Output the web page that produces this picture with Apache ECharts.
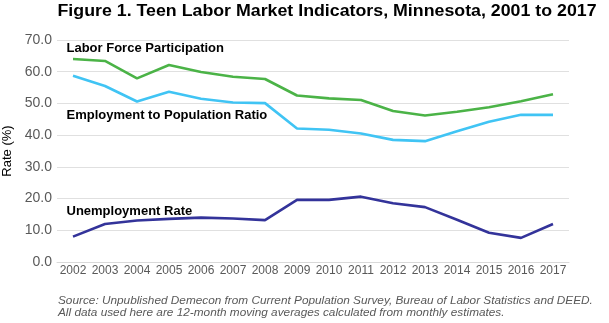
<!DOCTYPE html>
<html>
<head>
<meta charset="utf-8">
<script src="https://cdn.jsdelivr.net/npm/echarts@6/dist/echarts.min.js"></script>
<style>
  html, body { margin: 0; padding: 0; background: #ffffff; }
  #chart { width: 609px; height: 323px; }
</style>
</head>
<body>
<div id="chart"></div>
<script>
// Teen labor market indicators, Minnesota (12-month moving averages, %)
const years = ['2002','2003','2004','2005','2006','2007','2008','2009','2010','2011','2012','2013','2014','2015','2016','2017'];
const laborForce = [64.0, 63.4, 57.9, 62.1, 59.9, 58.4, 57.7, 52.5, 51.6, 51.1, 47.6, 46.2, 47.4, 48.8, 50.7, 52.9];
const employmentRatio = [58.7, 55.5, 50.6, 53.7, 51.5, 50.3, 50.1, 42.1, 41.7, 40.5, 38.5, 38.1, 41.2, 44.2, 46.4, 46.4];
const unemployment = [8.0, 12.0, 13.1, 13.6, 14.0, 13.7, 13.2, 19.6, 19.6, 20.6, 18.5, 17.3, 13.3, 9.2, 7.6, 12.0];

const seriesNames = ['Labor Force Participation', 'Employment to Population Ratio', 'Unemployment Rate'];
// where each series name sits, in data units (category, value)
const namePositions = [['2002', 67.3], ['2002', 46.3], ['2002', 16.0]];

const FONT = '"Liberation Sans", Arial, sans-serif';

function lineSeries(name, data, color, labelAt) {
  return {
    name: name,
    type: 'line',
    data: data,
    symbol: 'none',
    lineStyle: { color: color, width: 2.6 },
    itemStyle: { color: color },
    animation: false,
    markPoint: {
      symbol: 'rect',
      symbolSize: 0,
      silent: true,
      data: [{ coord: labelAt, value: name }],
      label: {
        show: true,
        position: 'inside',
        align: 'left',
        verticalAlign: 'middle',
        offset: [-6.5, 0],
        formatter: name,
        color: '#000000',
        fontFamily: FONT,
        fontWeight: 'bold',
        fontSize: 13
      }
    }
  };
}

const chart = echarts.init(document.getElementById('chart'), null, { renderer: 'canvas' });
chart.setOption({
  backgroundColor: '#ffffff',
  animation: false,
  graphic: [{
    type: 'text',
    x: 57.5,
    y: 12,
    scaleX: 1.14,
    style: {
      text: 'Figure 1. Teen Labor Market Indicators, Minnesota, 2001 to 2017',
      font: 'bold 15.6px "Liberation Sans", Arial, sans-serif',
      fill: '#000000',
      verticalAlign: 'middle'
    }
  }, {
    type: 'text',
    x: 58,
    y: 294.3,
    style: {
      text: 'Source: Unpublished Demecon from Current Population Survey, Bureau of Labor Statistics and DEED.\nAll data used here are 12-month moving averages calculated from monthly estimates.',
      font: 'italic 11.8px "Liberation Sans", Arial, sans-serif',
      fill: '#595959',
      lineHeight: 12.5
    }
  }],
  grid: { left: 57, right: 40, top: 40, bottom: 61, outerBoundsMode: 'none', containLabel: false },
  xAxis: {
    type: 'category',
    data: years,
    boundaryGap: true,
    axisLine: { show: true, lineStyle: { color: '#d9d9d9', width: 1 } },
    axisTick: { show: false },
    axisLabel: { color: '#595959', fontFamily: FONT, fontSize: 12, margin: 3, interval: 0 }
  },
  yAxis: {
    type: 'value',
    min: 0,
    max: 70,
    interval: 10,
    name: 'Rate (%)',
    nameLocation: 'middle',
    nameGap: 38,
    nameTextStyle: { color: '#000000', fontFamily: FONT, fontSize: 13 },
    axisLine: { show: false },
    axisTick: { show: false },
    splitLine: { lineStyle: { color: '#e0e0e0', width: 1 } },
    axisLabel: {
      color: '#595959', fontFamily: FONT, fontSize: 14, margin: 5,
      formatter: v => v.toFixed(1)
    }
  },
  series: [
    lineSeries(seriesNames[0], laborForce, '#4bb347', namePositions[0]),
    lineSeries(seriesNames[1], employmentRatio, '#40c4f4', namePositions[1]),
    lineSeries(seriesNames[2], unemployment, '#33339a', namePositions[2])
  ]
});
</script>
</body>
</html>
